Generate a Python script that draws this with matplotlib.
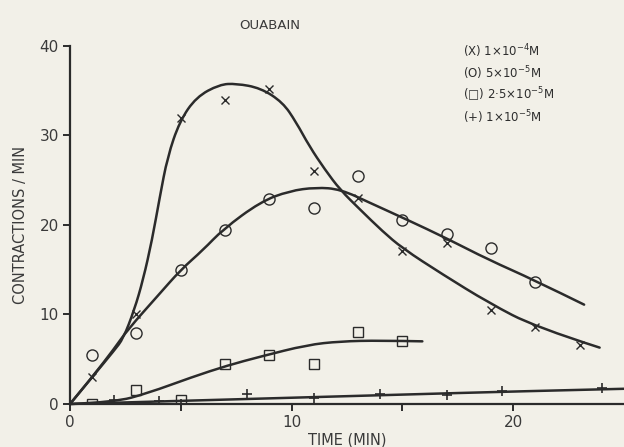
import matplotlib.pyplot as plt
from matplotlib.path import Path
from matplotlib.patches import PathPatch

# Ouabain: contraction rate against time for four concentrations
# measured points
t_x = [1, 3, 5, 7, 9, 11, 13, 15, 17, 19, 21, 23]
y_x = [3, 10, 32, 34, 35.2, 26, 23, 17.1, 18, 10.5, 8.6, 6.6]

t_o = [1, 3, 5, 7, 9, 11, 13, 15, 17, 19, 21]
y_o = [5.5, 7.9, 15, 19.4, 22.9, 21.9, 25.5, 20.6, 19, 17.4, 13.6]

t_sq = [1, 3, 5, 7, 9, 11, 13, 15]
y_sq = [0, 1.6, 0.4, 4.5, 5.5, 4.5, 8, 7]

t_pl = [2, 4, 5, 8, 11, 14, 17, 19.5, 24]
y_pl = [0.45, 0.35, 0.05, 1.1, 0.65, 1.1, 1.0, 1.45, 1.8]

# hand-drawn fitted curves (guide points)
fit_x_t = [0, 1, 2, 2.4, 2.9, 3.3, 3.7, 4.05, 4.4, 4.95, 5.7, 6.75, 7.5, 8.6, 9.6,
           10.2, 10.8, 11.5, 12.2, 13.1, 14.1, 15, 16.8, 18.9, 21, 23.9]
fit_x_y = [0, 3, 6, 7.3, 10.5, 13.9, 18.3, 23.1, 27.6, 31.6, 34.3, 35.7, 35.8, 35.3, 33.7,
           31.5, 28.8, 26.2, 23.9, 21.7, 19.3, 17.4, 14.5, 11.3, 8.6, 6.3]

fit_o_t = [0, 1, 2, 2.6, 4, 5, 6, 6.9, 8.6, 9.9, 11.1, 12.2, 13.6, 15.2, 17, 18.9, 20.9, 23.2]
fit_o_y = [0, 3, 6.2, 8.3, 12.2, 15, 17.2, 19.5, 22.6, 23.8, 24.2, 24.0, 22.4, 20.6, 18.5, 16.1, 13.9, 11.1]

fit_sq_t = [0, 2, 3.5, 5.5, 7.1, 8.6, 10.7, 12.2, 14, 15.9]
fit_sq_y = [0, 0.2, 1.2, 3, 4.3, 5.3, 6.6, 7.0, 7.1, 7.0]

fit_pl_t = [0, 5, 10, 15, 20, 25]
fit_pl_y = [0, 0.35, 0.7, 1.05, 1.4, 1.7]

legend_lines = ['(X) 1×10$^{-4}$M', '(O) 5×10$^{-5}$M',
                '(□) 2·5×10$^{-5}$M', '(+) 1×10$^{-5}$M']

bg = '#f2f0e8'
ink = '#2b2b2b'


def smooth_path(xs, ys):
    # quadratic bezier through the midpoints, guide points as controls
    pts = list(zip(xs, ys))
    verts = [pts[0]]
    codes = [Path.MOVETO]
    for i in range(1, len(pts) - 1):
        mid = ((pts[i][0] + pts[i + 1][0]) / 2, (pts[i][1] + pts[i + 1][1]) / 2)
        if i == len(pts) - 2:
            mid = pts[-1]
        verts += [pts[i], mid]
        codes += [Path.CURVE3, Path.CURVE3]
    return Path(verts, codes)


fig = plt.figure(figsize=(6.24, 4.47), dpi=100, facecolor=bg)
ax = fig.add_axes([0.1122, 0.0962, 0.8878, 0.801], facecolor=bg)

for ft, fy in [(fit_x_t, fit_x_y), (fit_o_t, fit_o_y), (fit_sq_t, fit_sq_y), (fit_pl_t, fit_pl_y)]:
    ax.add_patch(PathPatch(smooth_path(ft, fy), fill=False, ec=ink, lw=1.8,
                           capstyle='round', joinstyle='round', clip_on=False))

ax.plot(t_x, y_x, 'x', color=ink, ms=6, mew=1.0)
ax.plot(t_o, y_o, 'o', mfc='none', mec=ink, ms=8, mew=1.0)
ax.plot(t_sq, y_sq, 's', mfc='none', mec=ink, ms=7, mew=1.0)
ax.plot(t_pl, y_pl, '+', color=ink, ms=7, mew=1.2)

ax.set_xlim(0, 25)
ax.set_ylim(0, 40)
ax.set_xticks([0, 5, 10, 15, 20])
ax.set_xticklabels(['0', '', '10', '', '20'])
ax.set_yticks([0, 10, 20, 30, 40])
for s in ['top', 'right']:
    ax.spines[s].set_visible(False)
for s in ['left', 'bottom']:
    ax.spines[s].set_color(ink)
    ax.spines[s].set_linewidth(1.6)
ax.tick_params(direction='out', length=5, width=1.4, color=ink,
               labelsize=11, labelcolor='#3a3a3a', pad=3)

ax.set_xlabel('TIME (MIN)', fontsize=10.5, color='#3a3a3a', labelpad=2)
ax.set_ylabel('CONTRACTIONS / MIN', fontsize=10.5, color='#3a3a3a', labelpad=8)
ax.set_title('OUABAIN', fontsize=9.5, color='#3a3a3a', x=0.36, pad=12)

for i, s in enumerate(legend_lines):
    fig.text(0.742, 0.886 - i * 0.0495, s, fontsize=8.5, color='#2e2e2e', va='center')

fig.savefig('out.png', dpi=100, facecolor=bg)
